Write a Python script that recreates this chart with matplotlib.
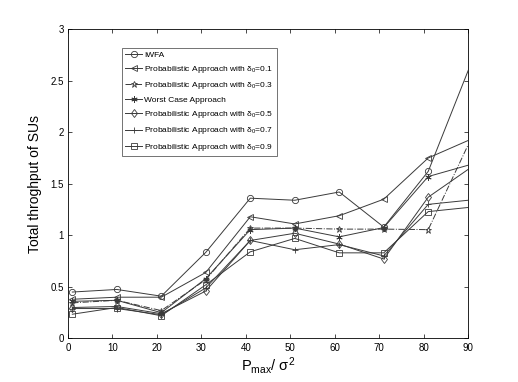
import numpy as np
import matplotlib.pyplot as plt

plt.rcParams.update({'font.size': 7, 'font.family': ['Liberation Sans', 'DejaVu Sans'],
                     'mathtext.fontset': 'custom', 'mathtext.rm': 'Liberation Sans',
                     'mathtext.it': 'Liberation Sans'})

snr = [1, 11, 21, 31, 41, 51, 61, 71, 81, 90]

iwfa = [0.45, 0.475, 0.41, 0.835, 1.36, 1.34, 1.42, 1.08, 1.62, 2.6]
prob_01 = [0.38, 0.40, 0.40, 0.64, 1.18, 1.11, 1.19, 1.35, 1.75, 1.92]
prob_03 = [0.345, 0.37, 0.27, 0.57, 1.07, 1.07, 1.06, 1.06, 1.055, 1.88]
worst = [0.36, 0.37, 0.25, 0.58, 1.055, 1.07, 0.985, 1.075, 1.57, 1.68]
prob_05 = [0.30, 0.31, 0.24, 0.46, 0.95, 1.02, 0.915, 0.77, 1.37, 1.64]
prob_07 = [0.29, 0.29, 0.23, 0.49, 0.95, 0.86, 0.91, 0.80, 1.30, 1.34]
prob_09 = [0.235, 0.30, 0.22, 0.52, 0.84, 0.97, 0.83, 0.83, 1.23, 1.27]

labels = ['IWFA',
          r'Probabilistic Approach with $\delta_0$=0.1',
          r'Probabilistic Approach with $\delta_0$=0.3',
          'Worst Case Approach',
          r'Probabilistic Approach with $\delta_0$=0.5',
          r'Probabilistic Approach with $\delta_0$=0.7',
          r'Probabilistic Approach with $\delta_0$=0.9']

series = [iwfa, prob_01, prob_03, worst, prob_05, prob_07, prob_09]
markers = ['o', '<', '*', (6, 2, 0), 'd', '+', 's']
styles = ['-', '-', '-.', '-', '-', '-', '-']

fig = plt.figure(figsize=(5.18, 3.82), dpi=100)
ax = fig.add_axes([0.131, 0.114, 0.773, 0.81])

col = '#3a3a3a'
for vals, m, ls, lab in zip(series, markers, styles, labels):
    # last point sits on the right edge, no marker drawn there
    ax.plot(snr, vals, linestyle=ls, marker=m, color=col, lw=0.7,
            markersize=4.5, markerfacecolor='none', markeredgewidth=0.6,
            markevery=slice(0, 9), label=lab)

ax.set_xlim(0, 90)
ax.set_ylim(0, 3)
ax.set_xticks(np.arange(0, 91, 10))
ax.set_yticks([0, 0.5, 1, 1.5, 2, 2.5, 3])
ax.set_yticklabels(['0', '0.5', '1', '1.5', '2', '2.5', '3'])
ax.tick_params(direction='in', top=True, right=True, length=3, width=0.5,
               labelsize=7, pad=3)
for s in ax.spines.values():
    s.set_linewidth(0.6)

ax.set_xlabel(r'P$_{\mathrm{max}}$/ $\sigma^2$', fontsize=10.5, labelpad=2)
ax.set_ylabel('Total throghput of SUs', fontsize=10, labelpad=6)

leg = ax.legend(loc='upper left', bbox_to_anchor=(0.135, 0.94), fontsize=6.0,
                frameon=True, fancybox=False, edgecolor='#333333',
                handlelength=2.0, borderpad=0.4, labelspacing=0.62,
                handletextpad=0.3, borderaxespad=0)
leg.get_frame().set_linewidth(0.6)

plt.savefig('out.png', dpi=100)
plt.close()
